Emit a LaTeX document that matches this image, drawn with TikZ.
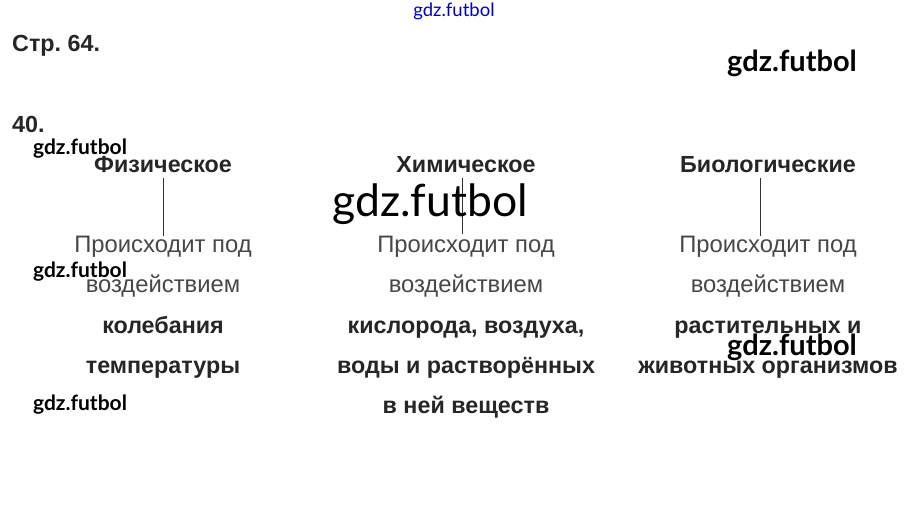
\documentclass[tikz,border=0pt]{standalone}
\usepackage{fontspec}
\setmainfont{Liberation Sans}
\newfontfamily\wmfont{Lato}
\begin{document}
\begin{tikzpicture}[x=1pt, y=-1pt,
    hd/.style  = {anchor=base, inner sep=0pt, text=black!85, font=\bfseries\fontsize{23.3}{28}\selectfont},
    txt/.style = {anchor=base, inner sep=0pt, text=black!72, font=\fontsize{23.8}{28}\selectfont},
    bld/.style = {anchor=base, inner sep=0pt, text=black!85, font=\bfseries\fontsize{23.3}{28}\selectfont},
    wm/.style  = {anchor=base, inner sep=0pt, font=\wmfont\bfseries\fontsize{21}{24}\selectfont},
    wmmid/.style = {anchor=base, inner sep=0pt, font=\wmfont\bfseries\fontsize{29}{32}\selectfont},
    wmbig/.style = {anchor=base, inner sep=0pt, font=\wmfont\fontsize{44.5}{50}\selectfont}]
  \useasboundingbox[fill=white] (0,0) rectangle (909,518);
  % header
  \node [hd, anchor=base west] (page) at (12,52) {Стр.~64.};
  \node [hd, anchor=base west] (num) at (12,133) {40.};
  % three columns
  \node [hd] (phys) at (163,173) {Физическое};
  \node [hd] (chem) at (466,173) {Химическое};
  \node [hd] (bio)  at (768,173) {Биологические};
  \node [txt] (phys1) at (163,253) {Происходит под};
  \node [txt] (phys2) at (163,293) {воздействием};
  \node [bld] (phys3) at (163,333) {колебания};
  \node [bld] (phys4) at (163,373) {температуры};
  \node [txt] (chem1) at (466,253) {Происходит под};
  \node [txt] (chem2) at (466,293) {воздействием};
  \node [bld] (chem3) at (466,333) {кислорода, воздуха,};
  \node [bld] (chem4) at (466,373) {воды и растворённых};
  \node [bld] (chem5) at (466,413) {в ней веществ};
  \node [txt] (bio1) at (768,253) {Происходит под};
  \node [txt] (bio2) at (768,293) {воздействием};
  \node [bld] (bio3) at (768,333) {растительных и};
  \node [bld] (bio4) at (768,373) {животных организмов};
  \draw [black!80] ([yshift=-5]phys.south) -- (phys1.north);
  \draw [black!80] ([xshift=-4,yshift=-5]chem.south) -- ([xshift=-4,yshift=2]chem1.north);
  \draw [black!80] ([xshift=-8,yshift=-5]bio.south) -- ([xshift=-8]bio1.north);
  % watermarks
  \node [anchor=base, inner sep=0pt, text=blue!75!black, font=\wmfont\fontsize{18.5}{22}\selectfont] (wm0) at (454,17) {gdz.futbol};
  \node [wmmid] (wm1) at (792,72) {gdz.futbol};
  \node [wm] (wm2) at (80,155) {gdz.futbol};
  \node [wmbig] (wm3) at (430,217) {gdz.futbol};
  \node [wm] (wm4) at (80,278) {gdz.futbol};
  \node [wmmid] (wm5) at (792,355) {gdz.futbol};
  \node [wm] (wm6) at (80,410) {gdz.futbol};
\end{tikzpicture}
\end{document}
